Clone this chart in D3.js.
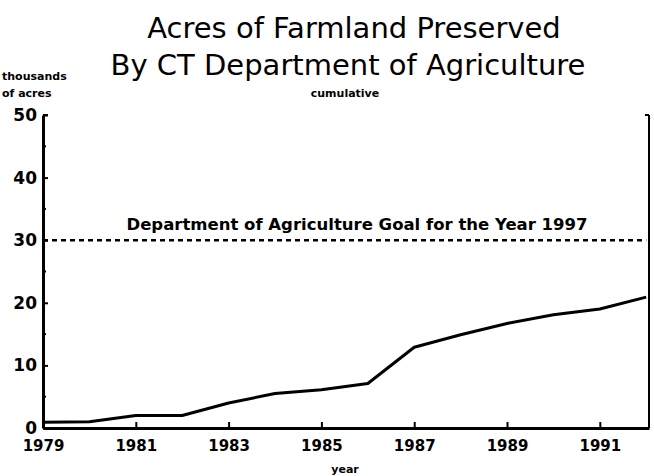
<!DOCTYPE html>
<html>
<head>
<meta charset="utf-8">
<script src="https://cdn.jsdelivr.net/npm/d3@7"></script>
<style>
  body { margin: 0; background: #fff; }
  svg text { fill: #000; }
</style>
</head>
<body>
<div id="chart"></div>
<script>
// data
const years = [1979, 1980, 1981, 1982, 1983, 1984, 1985, 1986, 1987, 1988, 1989, 1990, 1991, 1992];
const acres = [0.9, 1.0, 2.0, 2.0, 4.0, 5.5, 6.1, 7.1, 12.9, 14.9, 16.7, 18.1, 19.0, 20.9];
const goalValue = 30;
const goalLabel = "Department of Agriculture Goal for the Year 1997";
const yTicks = [0, 10, 20, 30, 40, 50];
const xTicks = [1979, 1981, 1983, 1985, 1987, 1989, 1991];

const width = 654, height = 476;
const plotLeft = 43, plotRight = 649, plotTop = 115, plotBottom = 428;

const svg = d3.select("#chart").append("svg")
    .attr("width", width)
    .attr("height", height);

const x = d3.scaleLinear().domain([1979, 1992.06]).range([plotLeft, plotRight]);
const y = d3.scaleLinear().domain([0, 50]).range([plotBottom, plotTop]);

// titles
svg.append("text")
    .attr("x", 354).attr("y", 38)
    .attr("text-anchor", "middle")
    .style("font", "29px 'DejaVu Sans'")
    .text("Acres of Farmland Preserved");

svg.append("text")
    .attr("x", 348).attr("y", 75)
    .attr("text-anchor", "middle")
    .style("font", "29px 'DejaVu Sans'")
    .text("By CT Department of Agriculture");

const small = "bold 11px 'DejaVu Sans'";
svg.append("text").attr("x", 2).attr("y", 80).style("font", small).text("thousands");
svg.append("text").attr("x", 2).attr("y", 97).style("font", small).text("of acres");
svg.append("text").attr("x", 345).attr("y", 97).attr("text-anchor", "middle").style("font", small).text("cumulative");
svg.append("text").attr("x", 345).attr("y", 473).attr("text-anchor", "middle").style("font", small).text("year");

// y axis with inward ticks
const yAxis = svg.append("g")
    .attr("transform", `translate(${plotLeft},0)`)
    .call(d3.axisLeft(y).tickValues(yTicks).tickSize(-5).tickPadding(6).tickSizeOuter(0));
yAxis.select(".domain").attr("stroke-width", 3);
yAxis.selectAll(".tick line").attr("stroke-width", 2);
yAxis.selectAll("text").style("font", "bold 17px 'DejaVu Sans'");

// minor ticks at the fives
svg.append("g").selectAll("line")
    .data(d3.range(5, 50, 10))
    .join("line")
    .attr("x1", plotLeft).attr("x2", plotLeft + 3)
    .attr("y1", d => y(d)).attr("y2", d => y(d))
    .attr("stroke", "#000").attr("stroke-width", 2);

// x axis with inward ticks
const xAxis = svg.append("g")
    .attr("transform", `translate(0,${plotBottom})`)
    .call(d3.axisBottom(x).tickValues(xTicks).tickFormat(d3.format("d")).tickSize(-6).tickPadding(12).tickSizeOuter(0));
xAxis.select(".domain").attr("stroke-width", 3);
xAxis.selectAll(".tick line").attr("stroke-width", 2);
xAxis.selectAll("text").style("font", "bold 15px 'DejaVu Sans'");

// top bracket of left axis and the right frame
svg.append("line")
    .attr("x1", plotLeft).attr("x2", plotLeft + 5)
    .attr("y1", y(50)).attr("y2", y(50))
    .attr("stroke", "#000").attr("stroke-width", 2);
svg.append("line")
    .attr("x1", plotRight).attr("x2", plotRight)
    .attr("y1", y(50)).attr("y2", y(0))
    .attr("stroke", "#000").attr("stroke-width", 2);
svg.append("line")
    .attr("x1", plotRight - 4).attr("x2", plotRight)
    .attr("y1", y(50)).attr("y2", y(50))
    .attr("stroke", "#000").attr("stroke-width", 2);

// goal line
svg.append("line")
    .attr("x1", plotLeft).attr("x2", x(1992))
    .attr("y1", y(goalValue)).attr("y2", y(goalValue))
    .attr("stroke", "#000")
    .attr("stroke-width", 2.5)
    .attr("stroke-dasharray", "5,4");

svg.append("text")
    .attr("x", 357).attr("y", y(goalValue) - 10)
    .attr("text-anchor", "middle")
    .style("font", "bold 16.5px 'DejaVu Sans'")
    .text(goalLabel);

// cumulative acreage line
const line = d3.line()
    .x((d, i) => x(years[i]))
    .y(d => y(d));

svg.append("path")
    .datum(acres)
    .attr("fill", "none")
    .attr("stroke", "#000")
    .attr("stroke-width", 3)
    .attr("stroke-linejoin", "round")
    .attr("d", line);
</script>
</body>
</html>
